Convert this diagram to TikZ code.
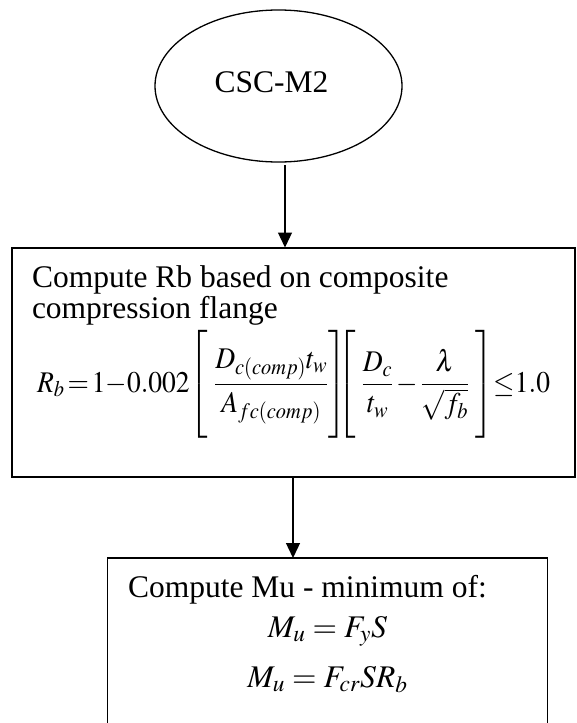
\documentclass[tikz,border=0pt]{standalone}
\usepackage{mathptmx}
\usepackage[no-math]{fontspec}
\usepackage{graphicx}
\setmainfont{Liberation Serif}
\usetikzlibrary{shapes.geometric,arrows.meta}
\newcommand\brstrut{\rule[-38pt]{0pt}{90pt}}
\tikzset{
  txt/.style={inner sep=0pt, outer sep=0pt, anchor=base west, font=\fontsize{31.5}{36}\selectfont},
  ctxt/.style={inner sep=0pt, outer sep=0pt, anchor=base, font=\fontsize{31.5}{36}\selectfont},
  arr/.style={line width=1.3pt, -{Triangle[length=15pt,width=14pt]}},
  boxa/.style={draw, line width=2pt, outer sep=0pt, inner sep=0pt, anchor=north west},
  boxb/.style={draw, line width=1.3pt, outer sep=0pt, inner sep=0pt, anchor=north west},
}
\begin{document}
\begin{tikzpicture}[x=1pt,y=-1pt]
\clip (0,0) rectangle (576,723);
\fill[white] (0,0) rectangle (576,723);
% start ellipse
\node[draw, ellipse, line width=1.3pt, minimum width=247pt, minimum height=152pt, inner sep=0pt, outer sep=0pt] (ell) at (278.5,86) {};
\node[ctxt] (lab0) at (271.5,92) {CSC-M2};
% box 1
\node[boxa, minimum width=563pt, minimum height=229pt] (box1) at (12,247.5) {};
\node[txt] (l1) at (32,287) {Compute Rb based on composite};
\node[txt] (l2) at (32,318) {compression flange};
\node[inner sep=0pt, outer sep=0pt, anchor=base west, font=\fontsize{30}{34}\selectfont] (f1) at (37,392)
  {\resizebox{513pt}{\height}{\delimitershortfall=0pt\delimiterfactor=1000$\displaystyle R_b\,{=}\,1{-}0.002\!\left[\brstrut\;\frac{D_{c(comp)}t_w}{\rule[-10pt]{0pt}{0pt}A_{fc(comp)}}\right]\!\!\!\!\left[\brstrut\;\frac{D_c}{\rule[-10pt]{0pt}{0pt}t_w}\,{-}\,\frac{\lambda}{\sqrt{f_b}}\;\right]\!{\le}1.0$}};
% box 2
\node[boxb, minimum width=440pt, minimum height=220pt] (box2) at (107.5,558) {};
\node[txt] (m0) at (128,597) {Compute Mu - minimum of:};
\node[ctxt] (m1) at (327.5,637) {$M_u = F_y S$};
\node[ctxt] (m2) at (327.5,687) {$M_u = F_{cr} S R_b$};
% connectors
\coordinate (c1) at (285,165);
\coordinate (c2) at (293,0);
\draw[arr] (c1) -- (c1 |- box1.north);
\draw[arr] (box1.south -| c2) -- (box2.north -| c2);
\end{tikzpicture}
\end{document}
